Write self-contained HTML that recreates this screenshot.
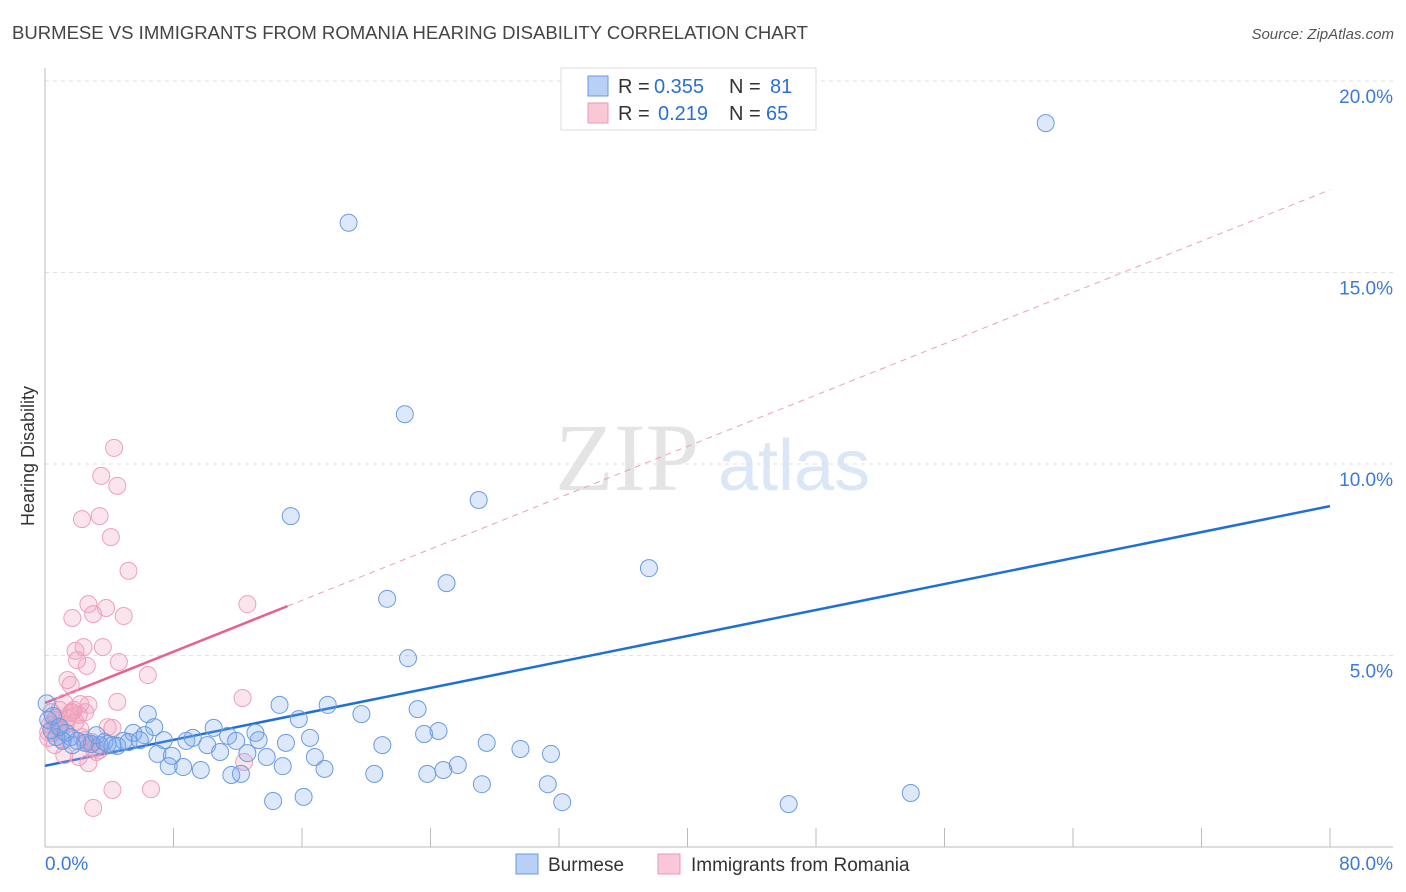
<!DOCTYPE html>
<html><head><meta charset="utf-8"><style>
body{margin:0;background:#fff;font-family:"Liberation Sans",sans-serif;}
svg{display:block}
</style></head><body>
<svg id="chart" width="1406" height="892">
<text x="12" y="39" font-size="18" fill="#444" textLength="796" lengthAdjust="spacingAndGlyphs">BURMESE VS IMMIGRANTS FROM ROMANIA HEARING DISABILITY CORRELATION CHART</text>
<text x="1394" y="39" font-size="15" fill="#555" font-style="italic" text-anchor="end">Source: ZipAtlas.com</text>
<text x="555" y="490" font-size="96" fill="#e4e4e4" font-family="Liberation Serif,serif">ZIP</text>
<text x="718" y="490" font-size="72" fill="#dbe7f6">atlas</text>
<text transform="translate(34,456) rotate(-90)" font-size="18" fill="#333" text-anchor="middle">Hearing Disability</text>
<g id="grid"></g><g id="axes"></g><g id="lines"></g><g id="pts"></g>
<g>
<rect x="561" y="68" width="255" height="62" fill="#fff" stroke="#ddd"/>
<rect x="588" y="76" width="20" height="20" fill="#b8d0f5" stroke="#6a9ae0"/>
<rect x="588" y="103" width="20" height="20" fill="#f9c7d6" stroke="#ec98b4"/>
<text x="618" y="93" font-size="20" fill="#333">R =</text>
<text x="654" y="93" font-size="20" fill="#2a6fd6">0.355</text>
<text x="729" y="93" font-size="20" fill="#333">N =</text>
<text x="770" y="93" font-size="20" fill="#2a6fd6">81</text>
<text x="618" y="120" font-size="20" fill="#333">R =</text>
<text x="658" y="120" font-size="20" fill="#2a6fd6">0.219</text>
<text x="729" y="120" font-size="20" fill="#333">N =</text>
<text x="766" y="120" font-size="20" fill="#2a6fd6">65</text>
</g>
<g>
<rect x="516" y="854" width="22" height="20" fill="#b8d0f5" stroke="#6a9ae0"/>
<text x="548" y="871" font-size="19" fill="#333">Burmese</text>
<rect x="658" y="854" width="22" height="20" fill="#f9c7d6" stroke="#ec98b4"/>
<text x="691" y="871" font-size="19" fill="#333">Immigrants from Romania</text>
</g>
</svg>
<script>
const blueX=[62.3,18.9,22.4,15.3,27.0,37.6,25.0,21.3,22.6,14.6,17.6,19.7,23.2,15.8,6.4,6.8,10.5,13.1,23.6,24.5,16.5,11.4,11.9,13.3,15.0,21.0,27.5,29.6,31.5,5.5,6.2,7.4,8.8,9.2,10.1,10.9,12.6,13.8,16.8,7.0,7.9,8.6,9.7,7.7,12.2,11.6,14.8,17.4,20.5,23.8,24.8,25.7,27.2,31.3,14.2,16.1,32.2,46.3,53.9,4.9,4.5,3.9,3.4,2.9,2.5,2.0,1.6,1.1,0.7,0.4,0.2,0.1,0.5,0.9,1.3,1.7,3.2,3.7,4.2,5.2,5.9];
const blueY=[18.9,16.3,11.3,8.64,9.06,7.28,6.89,6.48,4.93,3.71,3.71,3.47,3.60,3.34,3.47,3.13,3.11,2.98,2.95,3.03,2.85,2.90,2.77,2.79,2.72,2.66,2.72,2.56,2.43,2.98,2.92,2.79,2.77,2.85,2.66,2.48,2.45,2.35,2.35,2.43,2.38,2.09,2.01,2.11,1.91,1.88,2.11,2.04,1.91,1.91,2.01,2.14,1.64,1.64,1.20,1.31,1.17,1.12,1.41,2.77,2.64,2.69,2.66,2.69,2.72,2.77,2.87,2.77,2.87,3.05,3.32,3.75,3.42,3.13,2.98,2.66,2.92,2.74,2.66,2.74,2.79];
const pinkX=[4.3,3.5,4.5,2.3,3.4,4.1,5.2,12.6,2.7,3.8,3.0,4.9,1.7,3.6,2.4,1.9,2.0,2.6,4.6,6.4,1.4,1.6,12.3,4.5,2.7,1.2,0.9,1.7,2.1,1.4,0.6,0.3,0.8,1.0,0.5,0.2,2.2,3.9,4.2,2.3,2.5,3.1,2.8,3.4,3.2,1.2,2.1,2.7,12.4,4.2,6.6,3.0,0.9,0.7,0.4,1.3,1.6,1.9,0.2,1.1,0.6,2.2,1.8,2.5,2.9];
const pinkY=[10.42,9.69,9.43,8.56,8.64,8.09,7.21,6.34,6.34,6.24,6.08,6.03,5.98,5.22,5.22,5.12,4.88,4.73,4.83,4.49,4.36,4.23,3.89,3.79,3.71,3.76,3.58,3.52,3.45,3.37,3.32,3.19,3.13,3.05,2.98,2.85,3.08,3.13,3.11,2.87,2.79,2.58,2.69,2.53,2.48,2.40,2.35,2.19,2.22,1.49,1.51,1.02,3.16,3.37,3.52,3.19,3.50,3.26,3.00,2.79,2.66,3.73,3.58,3.52,2.74];
const yTicks=[5,10,15,20];
const xTickLabels=["0.0%","80.0%"];
const blueFit=[2.12,8.9];
const pinkFit=[3.76,0.1675];
const X0=45,X1=1330,YB=847,PX5=191.5;
const sx=v=>X0+(X1-X0)*v/80, sy=v=>YB-v*PX5/5;
const NS="http://www.w3.org/2000/svg";
function mk(p,t,a){const e=document.createElementNS(NS,t);for(const k in a)e.setAttribute(k,a[k]);document.getElementById(p).appendChild(e);return e;}
yTicks.forEach(t=>{
 const g=mk('grid','line',{x1:45,x2:1393,y1:sy(t),y2:sy(t),stroke:'#e2e2e2','stroke-dasharray':'4,4'});
 
 
 const l=mk('grid','text',{x:1393,y:sy(t)+22,'font-size':19,fill:'#3a7ad8','text-anchor':'end'});l.textContent=t.toFixed(1)+'%';
 
 
});
const ax=mk('axes','line',{x1:45,x2:45,y1:68,y2:847,stroke:'#bbb'});


const bx=mk('axes','line',{x1:45,x2:1393,y1:847,y2:847,stroke:'#bbb'});


for(let i=0;i<=10;i++){const t=mk('axes','line',{x1:sx(i*8),x2:sx(i*8),y1:828,y2:847,stroke:'#bbb'});
 
 }
[[45,'start',0],[1393,'end',1]].forEach(([x,a,i])=>{const t=mk('axes','text',{x:x,y:870,'font-size':19,fill:'#3a7ad8','text-anchor':a});t.textContent=xTickLabels[i];
 
 });
function dot(x,y,f,s,n){const c=mk('pts','circle',{cx:sx(x),cy:sy(y),r:8.5,fill:f,stroke:s,'stroke-width':1});
 
 }
pinkX.forEach((x,i)=>dot(x,pinkY[i],'rgba(242,160,188,0.28)','#ef9fbb','romania-point'));
blueX.forEach((x,i)=>dot(x,blueY[i],'rgba(120,168,235,0.25)','#6a9be3','burmese-point'));
const bl=mk('lines','line',{x1:sx(0),y1:sy(blueFit[0]),x2:sx(80),y2:sy(blueFit[1]),stroke:'#1f6fd8','stroke-width':2.5});


const pe=15.1;
const pl=mk('lines','line',{x1:sx(0),y1:sy(pinkFit[0]),x2:sx(pe),y2:sy(pinkFit[0]+pinkFit[1]*pe),stroke:'#e8608e','stroke-width':2.5});


const pd=mk('lines','line',{x1:sx(pe),y1:sy(pinkFit[0]+pinkFit[1]*pe),x2:sx(80),y2:sy(pinkFit[0]+pinkFit[1]*80),stroke:'#eaa0b8','stroke-width':1,'stroke-dasharray':'6,5'});


</script>
</body></html>
